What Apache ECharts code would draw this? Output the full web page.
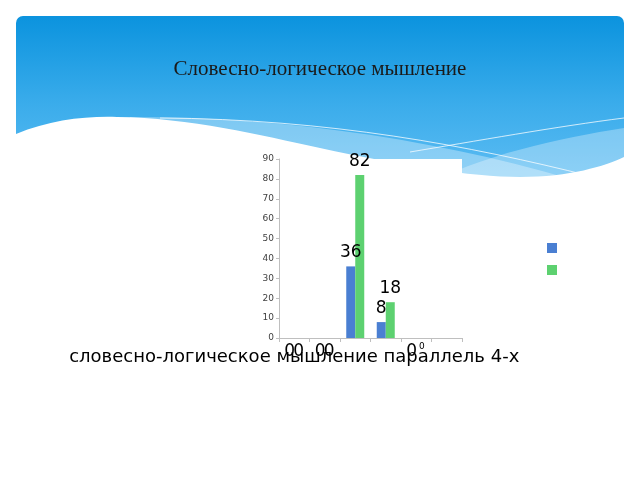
<!DOCTYPE html>
<html>
<head>
<meta charset="utf-8">
<script src="https://cdn.jsdelivr.net/npm/echarts@6/dist/echarts.min.js"></script>
<style>
  html, body { margin: 0; padding: 0; background: #fff; }
  #chart { width: 640px; height: 480px; }
</style>
</head>
<body>
<div id="chart"></div>
<script>
// данные диаграммы
var categories = ['словесно-логическое мышление параллель 4-х', '', '', '', '', ''];
var seriesNames = ['Ряд 1', 'Ряд 2'];
var blueValues = [0, 0, 36, 8, 0, null];
var greenValues = [0, 0, 82, 18, 0, null];
var yTicks = {min: 0, max: 90, step: 10};

// фигура из отрезков: [x,y] -> lineTo, [c1x,c1y,c2x,c2y,x,y] -> bezier
echarts.graphic.registerShape('wave', echarts.graphic.extendShape({
    shape: {pts: []},
    buildPath: function (ctx, shape) {
        var p = shape.pts;
        if (!p.length) return;
        ctx.moveTo(p[0][0], p[0][1]);
        for (var i = 1; i < p.length; i++) {
            if (p[i].length === 6) {
                ctx.bezierCurveTo(p[i][0], p[i][1], p[i][2], p[i][3], p[i][4], p[i][5]);
            } else {
                ctx.lineTo(p[i][0], p[i][1]);
            }
        }
        if (shape.closed) ctx.closePath();
    }
}));

function makeData(values, isGreen) {
    return values.map(function (v, i) {
        if (v === 0) {
            // нулевые подписи оказываются под осью
            if (isGreen && i === 4) {
                return {value: v, label: {position: 'bottom', fontSize: 9, offset: [1, -1]}};
            }
            return {value: v, label: {position: 'bottom'}};
        }
        return v;
    });
}

var chart = echarts.init(document.getElementById('chart'));
chart.setOption({
    animation: false,
    textStyle: {fontFamily: 'DejaVu Sans'},
    title: {
        text: 'Словесно-логическое мышление',
        left: 'center',
        top: 54,
        textStyle: {
            fontFamily: 'Liberation Serif',
            fontSize: 21,
            fontWeight: 'normal',
            color: '#1a1a1a'
        }
    },
    graphic: {
        elements: [
            { // шапка слайда
                type: 'rect', z: -10, z2: 1,
                shape: {x: 16, y: 16, width: 608, height: 175, r: [7, 7, 0, 0]},
                style: {
                    fill: new echarts.graphic.LinearGradient(0, 0, 0, 1, [
                        {offset: 0, color: '#0b93de'},
                        {offset: 0.5, color: '#3aaceb'},
                        {offset: 1, color: '#62bff4'}
                    ])
                }
            },
            {
                type: 'wave', z: -10, z2: 2,
                shape: {closed: true, pts: [[130, 117], [280, 116, 450, 140, 600, 188], [130, 188]]},
                style: {fill: 'rgba(255,255,255,0.32)'}
            },
            {
                type: 'wave', z: -10, z2: 3,
                shape: {closed: true, pts: [[624, 128], [560, 138, 480, 155, 420, 188], [624, 188]]},
                style: {fill: 'rgba(255,255,255,0.3)'}
            },
            {
                type: 'wave', z: -10, z2: 4,
                shape: {pts: [[160, 118], [330, 119, 470, 146, 590, 176]]},
                style: {fill: null, stroke: 'rgba(255,255,255,0.75)', lineWidth: 1}
            },
            {
                type: 'wave', z: -10, z2: 4,
                shape: {pts: [[410, 152], [470, 142, 560, 126, 624, 118]]},
                style: {fill: null, stroke: 'rgba(255,255,255,0.75)', lineWidth: 1}
            },
            { // белая волна
                type: 'wave', z: -10, z2: 5,
                shape: {closed: true, pts: [
                    [16, 134], [50, 120, 85, 116, 117, 117], [190, 118, 260, 135, 320, 148],
                    [400, 165, 470, 177, 520, 177], [570, 177, 605, 166, 624, 157],
                    [624, 480], [16, 480]
                ]},
                style: {fill: '#ffffff'}
            }
        ]
    },
    legend: {
        orient: 'vertical',
        left: 542,
        top: 238,
        icon: 'rect',
        itemWidth: 10,
        itemHeight: 10,
        itemGap: 12,
        data: seriesNames,
        formatter: function () { return ''; }
    },
    grid: {
        left: 279,
        top: 159,
        width: 183,
        height: 179,
        show: true,
        backgroundColor: '#ffffff',
        borderWidth: 0
    },
    xAxis: {
        type: 'category',
        data: categories,
        axisLine: {lineStyle: {color: '#bfbfbf'}},
        axisTick: {show: true, length: 4, lineStyle: {color: '#bfbfbf'}},
        axisLabel: {interval: 0, fontSize: 18, color: '#000', margin: 10}
    },
    yAxis: {
        type: 'value',
        min: yTicks.min,
        max: yTicks.max,
        interval: yTicks.step,
        axisLine: {show: true, lineStyle: {color: '#bfbfbf'}},
        axisTick: {show: true, length: 3, lineStyle: {color: '#bfbfbf'}},
        axisLabel: {fontSize: 9, color: '#404040', margin: 5},
        splitLine: {show: false}
    },
    series: [{
        name: seriesNames[0],
        type: 'bar',
        data: makeData(blueValues, false),
        barWidth: 9,
        barGap: '0%',
        itemStyle: {color: '#4a7fd2'},
        label: {show: true, position: 'top', fontSize: 17, color: '#000'}
    }, {
        name: seriesNames[1],
        type: 'bar',
        data: makeData(greenValues, true),
        barWidth: 9,
        barGap: '0%',
        itemStyle: {color: '#5dd170'},
        label: {show: true, position: 'top', fontSize: 17, color: '#000'}
    }]
});
</script>
</body>
</html>
